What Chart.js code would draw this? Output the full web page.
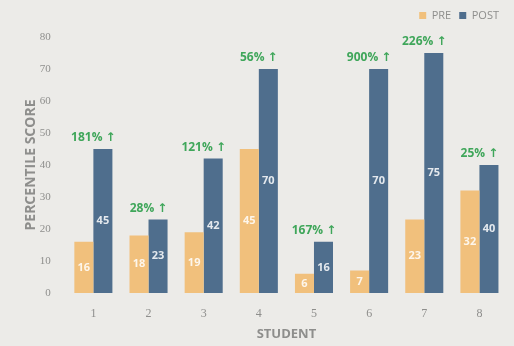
<!DOCTYPE html>
<html>
<head>
<meta charset="utf-8">
<script src="https://cdn.jsdelivr.net/npm/chart.js@4"></script>
<style>
  html, body { margin: 0; padding: 0; background: #ecebe8; }
  #wrap { width: 514px; height: 346px; }
</style>
</head>
<body>
<div id="wrap"><canvas id="chart" width="514" height="346"></canvas></div>
<script>
// Données
const students = ['1', '2', '3', '4', '5', '6', '7', '8'];
const preScores = [16, 18, 19, 45, 6, 7, 23, 32];
const postScores = [45, 23, 42, 70, 16, 70, 75, 40];
const yTicks = [0, 10, 20, 30, 40, 50, 60, 70, 80];

const ORANGE = '#f1c07c';
const BLUE = '#4f6e8d';
const GREEN = '#3fa65a';
const GREY = '#8e8e8c';

// hausse en % entre PRE et POST
function gainLabel(i) {
    const pct = Math.round((postScores[i] - preScores[i]) / preScores[i] * 100);
    return pct + '% \u2191';
}

// fond papier + un peu plus d'espace sous la légende
const bgPlugin = {
    id: 'bg',
    beforeInit(chart) {
        const fit = chart.legend.fit;
        chart.legend.fit = function() {
            fit.call(this);
            this.height += 6;
        };
    },
    beforeDraw(chart) {
        const ctx = chart.ctx;
        ctx.save();
        ctx.fillStyle = '#ecebe8';
        ctx.fillRect(0, 0, chart.width, chart.height);
        ctx.restore();
    }
};

// valeurs dans les barres + pourcentages au-dessus
const labelsPlugin = {
    id: 'barLabels',
    afterDatasetsDraw(chart) {
        const ctx = chart.ctx;
        ctx.save();
        ctx.textAlign = 'center';
        ctx.textBaseline = 'middle';
        ctx.font = 'bold 11px "Open Sans", sans-serif';
        ctx.fillStyle = 'rgba(255,255,255,0.85)';
        chart.data.datasets.forEach((ds, d) => {
            chart.getDatasetMeta(d).data.forEach((bar, i) => {
                const mid = (bar.y + bar.base) / 2;
                ctx.fillText(String(ds.data[i]), bar.x, mid);
            });
        });
        const pre = chart.getDatasetMeta(0).data;
        const post = chart.getDatasetMeta(1).data;
        ctx.font = 'bold 12px "Open Sans", "DejaVu Sans", sans-serif';
        ctx.fillStyle = GREEN;
        post.forEach((bar, i) => {
            const cx = (pre[i].x + bar.x) / 2;
            ctx.fillText(gainLabel(i), cx, bar.y - 11);
        });
        ctx.restore();
    }
};

new Chart(document.getElementById('chart'), {
    type: 'bar',
    data: {
        labels: students,
        datasets: [
            { label: 'PRE', data: preScores, backgroundColor: ORANGE },
            { label: 'POST', data: postScores, backgroundColor: BLUE }
        ]
    },
    options: {
        responsive: false,
        animation: false,
        layout: { padding: { top: 2, right: 7, left: 23, bottom: 4 } },
        datasets: {
            bar: { categoryPercentage: 0.69, barPercentage: 1.0 }
        },
        scales: {
            x: {
                grid: { display: false },
                border: { display: false },
                ticks: {
                    color: GREY,
                    padding: 6,
                    font: { family: '"Liberation Serif", serif', size: 12 }
                },
                title: {
                    display: true,
                    text: 'STUDENT',
                    color: GREY,
                    padding: { top: -1, bottom: 0 },
                    font: { family: '"Open Sans", sans-serif', size: 13, weight: 'bold' }
                }
            },
            y: {
                min: 0,
                max: 80,
                afterBuildTicks(axis) {
                    axis.ticks = yTicks.map(v => ({ value: v }));
                },
                grid: { display: false },
                border: { display: false },
                ticks: {
                    color: GREY,
                    padding: 7,
                    font: { family: '"Liberation Serif", serif', size: 11 }
                },
                title: {
                    display: true,
                    text: 'PERCENTILE SCORE',
                    color: GREY,
                    padding: { top: 0, bottom: -7 },
                    font: { family: '"Open Sans", sans-serif', size: 14, weight: 'bold' }
                }
            }
        },
        plugins: {
            legend: {
                position: 'top',
                align: 'end',
                labels: {
                    boxWidth: 7,
                    boxHeight: 7,
                    padding: 8,
                    color: GREY,
                    font: { family: '"Open Sans", sans-serif', size: 11 }
                }
            },
            tooltip: { enabled: false }
        }
    },
    plugins: [bgPlugin, labelsPlugin]
});
</script>
</body>
</html>
